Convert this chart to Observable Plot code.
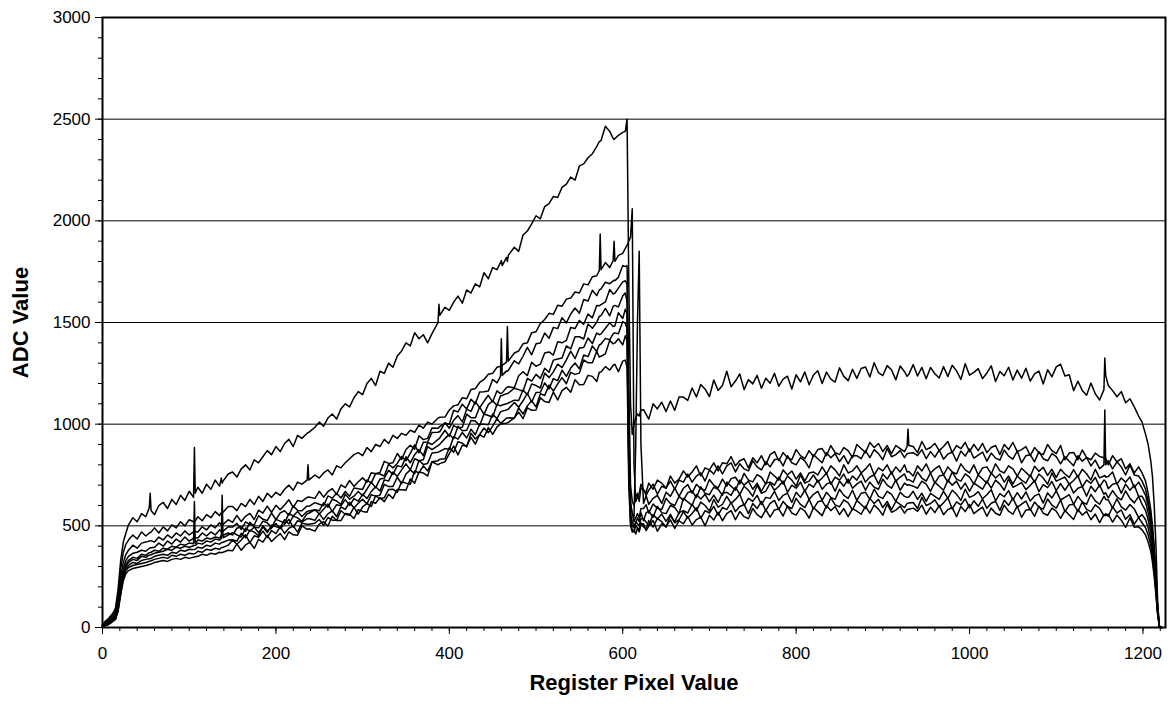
<!DOCTYPE html>
<html><head><meta charset="utf-8">
<script src="https://cdn.jsdelivr.net/npm/d3@7"></script>
<script src="https://cdn.jsdelivr.net/npm/@observablehq/plot@0.6"></script>
<style>body{margin:0;background:#fff;}</style>
</head><body><div id="chart"></div>
<script>
// Register pixel positions (x) shared by all readouts
const pixel = [
  0,3,6,9,12,15,18,21,24,27,
  30,35,40,45,50,54,55,56,60,65,
  70,75,80,85,90,95,100,105,106,107,
  110,115,120,125,130,135,137,138,139,145,
  150,155,160,165,170,175,180,185,190,195,
  200,205,210,215,220,225,230,236,237,238,
  245,250,255,260,265,270,275,280,285,290,
  295,300,305,310,315,320,325,330,335,340,
  345,350,355,360,365,370,375,380,387,388,
  389,395,400,405,410,415,420,425,430,435,
  440,445,450,455,459,460,461,466,467,468,
  475,480,485,490,495,500,505,510,515,520,
  525,530,535,540,545,550,555,560,565,570,
  573,574,575,580,585,589,590,591,595,600,
  603,605,607,609,611,613,615,617,619,621,
  624,627,630,635,640,645,650,655,660,665,
  670,675,680,685,690,695,700,705,710,715,
  720,725,730,735,740,745,750,755,760,765,
  770,775,780,785,790,795,800,805,810,815,
  820,825,830,835,840,845,850,855,860,865,
  870,875,880,885,890,895,900,905,910,915,
  920,925,928,929,930,935,940,945,950,955,
  960,965,970,975,980,985,990,995,1000,1005,
  1010,1015,1020,1025,1030,1035,1040,1045,1050,1055,
  1060,1065,1070,1075,1080,1085,1090,1095,1100,1105,
  1110,1115,1120,1125,1130,1135,1140,1145,1150,1155,
  1156,1157,1160,1165,1170,1175,1180,1185,1190,1195,
  1199,1203,1206,1209,1211,1213,1215,1217,1219,1221
];

const seriesA = [
  15,30,40,55,70,95,190,330,420,465,
  505,540,520,560,545,590,660,575,555,600,
  615,585,630,605,650,625,670,640,885,660,
  690,660,705,680,725,695,735,710,720,755,
  765,740,780,800,775,825,810,840,870,850,
  890,865,905,925,890,945,930,955,958,960,
  985,1010,990,1030,1050,1025,1075,1100,1085,1130,
  1160,1145,1200,1225,1190,1260,1250,1300,1280,1335,
  1360,1400,1385,1450,1420,1440,1400,1445,1500,1590,
  1535,1575,1560,1600,1630,1595,1660,1645,1690,1675,
  1745,1715,1770,1760,1795,1805,1780,1820,1800,1830,
  1870,1850,1930,1950,1985,2025,2010,2070,2085,2120,
  2115,2165,2180,2215,2200,2270,2280,2310,2330,2365,
  2390,2392,2395,2465,2440,2405,2400,2405,2420,2435,
  2440,2500,1700,1100,950,1000,1030,1050,1040,1070,
  1071,1048,1025,1100,1075,1108,1062,1114,1068,1134,
  1133,1117,1178,1134,1195,1172,1135,1217,1166,1190,
  1260,1184,1212,1247,1170,1219,1198,1240,1177,1226,
  1201,1250,1187,1222,1236,1173,1243,1208,1257,1194,
  1242,1263,1200,1256,1221,1207,1277,1235,1214,1270,
  1225,1274,1281,1232,1302,1253,1239,1288,1267,1218,
  1286,1258,1235,1240,1245,1293,1237,1279,1223,1279,
  1248,1227,1283,1234,1290,1262,1220,1297,1241,1255,
  1273,1224,1252,1287,1210,1259,1238,1280,1217,1266,
  1226,1275,1212,1247,1261,1198,1268,1233,1282,1295,
  1237,1243,1165,1211,1166,1142,1202,1150,1119,1170,
  1325,1240,1190,1165,1135,1160,1105,1125,1085,1040,
  1010,950,900,820,740,600,400,120,0,0
];
const seriesB = [
  10,20,35,45,60,80,160,290,370,410,
  430,455,435,470,450,465,467,469,490,465,
  495,475,505,490,520,500,530,520,522,524,
  545,525,555,540,570,550,565,566,567,595,
  595,575,610,595,630,605,645,620,660,640,
  665,650,680,700,675,715,705,725,800,725,
  750,735,760,775,750,795,785,810,830,850,
  860,845,885,865,900,890,925,905,945,930,
  955,945,970,960,995,980,1010,1000,1030,1032,
  1034,1035,1070,1090,1095,1130,1125,1170,1175,1205,
  1220,1245,1250,1280,1285,1287,1289,1305,1480,1310,
  1350,1360,1395,1400,1450,1455,1495,1515,1545,1540,
  1585,1580,1615,1620,1650,1645,1690,1685,1725,1730,
  1755,1935,1760,1795,1770,1805,1900,1800,1830,1840,
  1865,1880,1900,1920,2060,800,620,640,660,705,
  675,665,710,680,725,710,685,745,710,730,
  770,740,765,795,745,785,775,810,770,810,
  805,840,795,820,830,785,835,810,845,800,
  850,865,820,860,835,825,875,845,830,870,
  840,875,880,845,895,860,850,885,870,835,
  900,880,860,910,885,905,865,895,855,895,
  880,865,890,975,895,890,860,915,875,885,
  905,870,890,915,860,895,880,910,865,900,
  870,905,860,885,895,850,900,875,910,865,
  875,890,845,885,860,850,900,870,855,895,
  825,858,861,825,873,836,825,858,841,835,
  838,833,800,845,815,830,780,805,760,790,
  760,720,660,580,500,400,260,100,5,0
];
const seriesC = [
  10,20,30,40,50,70,140,250,320,360,
  380,405,390,415,420,425,426,427,420,445,
  430,455,440,465,450,475,455,470,471,472,
  470,495,480,505,490,515,505,506,507,530,
  517,551,521,547,561,531,577,563,597,567,
  601,579,602,628,591,625,620,640,641,642,
  635,670,641,668,683,654,701,688,723,694,
  717,736,715,761,756,762,817,807,810,856,
  826,875,896,877,943,924,930,981,980,984,
  988,1005,1000,1068,1060,1098,1075,1123,1100,1158,
  1160,1163,1220,1203,1235,1420,1240,1262,1260,1264,
  1312,1296,1334,1378,1341,1395,1399,1448,1422,1476,
  1470,1524,1498,1542,1571,1545,1613,1606,1659,1632,
  1660,1663,1665,1698,1691,1705,1708,1706,1722,1780,
  1775,1780,1200,700,620,600,640,660,620,685,
  680,650,675,705,655,695,685,720,680,725,
  715,755,715,745,760,720,775,755,795,755,
  795,810,765,805,780,770,820,790,775,815,
  790,825,830,795,845,810,800,835,820,785,
  850,830,810,860,835,855,815,845,805,845,
  845,830,870,835,875,855,825,880,840,850,
  870,835,855,856,857,860,845,875,830,865,
  838,873,828,853,863,818,868,843,878,833,
  848,863,818,858,833,823,873,843,828,868,
  810,845,850,815,865,830,820,855,840,805,
  840,818,796,845,818,836,795,823,781,800,
  1070,800,820,780,815,790,750,800,750,745,
  720,680,620,550,470,370,240,90,5,0
];
const seriesD = [
  5,15,25,35,45,60,120,220,290,330,
  350,365,370,380,375,390,391,392,395,415,
  400,425,410,435,420,445,425,440,441,442,
  440,465,450,470,455,480,472,473,474,495,
  494,512,482,520,506,504,550,532,526,564,
  530,564,574,552,598,576,574,598,597,596,
  614,606,599,647,636,660,637,669,646,686,
  682,679,725,711,757,755,745,803,785,807,
  841,820,856,898,859,911,912,959,960,963,
  962,1008,980,1019,1042,1011,1074,1063,1111,1080,
  1113,1142,1110,1164,1150,1152,1154,1180,1182,1184,
  1179,1238,1258,1239,1304,1285,1295,1350,1355,1340,
  1405,1400,1412,1475,1470,1510,1491,1542,1523,1584,
  1582,1585,1588,1601,1662,1640,1642,1645,1669,1700,
  1705,1690,1000,620,560,540,900,1500,1850,900,
  610,648,606,635,650,610,665,645,685,645,
  685,703,661,704,682,675,728,700,687,730,
  695,732,739,706,758,725,716,752,739,705,
  765,745,725,775,750,770,730,760,720,760,
  765,750,790,755,795,775,745,800,760,770,
  795,760,780,805,750,785,770,800,755,790,
  765,800,765,766,767,745,795,770,805,760,
  780,795,750,790,765,755,805,775,760,800,
  750,785,790,755,805,770,760,795,780,745,
  783,763,743,793,768,788,748,778,738,778,
  755,738,776,740,778,756,725,778,736,745,
  748,740,743,765,705,735,715,740,688,715,
  685,650,600,530,460,360,230,90,5,0
];
const seriesE = [
  5,15,22,30,40,55,110,200,270,310,
  330,345,340,360,355,368,369,370,380,375,
  390,385,400,395,410,405,415,412,620,414,
  430,425,440,435,445,440,452,453,454,465,
  455,488,496,473,517,494,490,523,515,492,
  532,523,514,561,548,571,546,572,571,573,
  579,574,613,592,631,622,605,656,631,646,
  669,648,680,715,687,730,734,773,753,796,
  790,840,810,850,875,845,910,900,925,928,
  933,970,940,993,982,985,1049,1032,1031,1084,
  1048,1096,1115,1092,1140,1140,1141,1150,1150,1152,
  1177,1170,1162,1225,1212,1245,1225,1275,1255,1315,
  1320,1325,1385,1370,1430,1430,1419,1493,1472,1501,
  1530,1532,1534,1569,1533,1580,1582,1584,1576,1630,
  1645,1600,900,600,560,520,540,560,540,585,
  585,604,563,607,586,580,635,610,600,645,
  625,663,671,639,692,660,653,691,680,650,
  715,695,675,725,700,720,680,710,670,710,
  715,700,740,705,745,725,695,750,710,720,
  750,715,735,760,705,740,725,755,710,745,
  725,760,715,740,750,705,755,730,765,720,
  740,755,725,726,727,715,765,735,720,760,
  710,745,750,715,765,730,720,755,740,705,
  750,730,710,760,735,755,715,745,705,745,
  725,710,750,715,755,735,705,760,720,730,
  740,704,723,747,691,725,709,738,692,725,
  722,718,683,705,710,660,705,675,700,645,
  645,615,565,500,430,340,210,80,5,0
];
const seriesF = [
  5,12,20,28,38,50,100,190,260,300,
  320,335,330,350,345,356,357,358,365,370,
  375,385,380,395,390,400,395,402,403,404,
  415,410,425,420,435,430,438,650,441,455,
  467,456,444,489,473,494,466,495,467,504,
  496,491,530,509,548,539,522,560,561,562,
  579,558,581,607,570,604,599,629,600,634,
  621,655,634,669,692,671,726,721,764,743,
  775,805,775,830,820,825,890,875,895,898,
  901,930,950,928,990,968,970,1018,1015,993,
  1050,1043,1035,1098,1090,1092,1094,1100,1102,1104,
  1118,1116,1168,1145,1198,1190,1178,1251,1229,1257,
  1295,1278,1316,1359,1322,1375,1377,1424,1396,1448,
  1440,1442,1444,1472,1499,1480,1482,1484,1548,1520,
  1565,1540,850,560,520,500,510,540,520,565,
  525,564,573,542,596,565,560,600,590,560,
  635,618,601,654,632,655,618,651,615,660,
  665,650,690,655,695,675,645,700,660,670,
  710,675,695,720,665,700,685,715,670,705,
  690,725,680,705,715,670,720,695,730,685,
  705,720,675,715,690,680,730,700,685,725,
  675,710,700,701,702,695,685,720,705,670,
  715,695,675,725,700,720,680,710,670,710,
  695,680,720,685,725,705,675,730,690,700,
  713,678,698,723,668,703,688,718,673,708,
  675,708,661,685,693,646,695,668,701,655,
  660,662,637,673,643,628,672,635,613,645,
  605,575,530,470,400,315,200,75,5,0
];
const seriesG = [
  5,10,18,25,35,45,90,180,250,290,
  305,320,315,330,335,338,339,340,350,355,
  360,355,370,365,380,375,385,383,384,385,
  395,390,405,400,415,410,417,418,419,430,
  431,425,463,441,479,469,451,501,475,489,
  511,487,508,532,493,525,518,535,535,536,
  527,560,531,559,574,546,593,581,616,588,
  611,631,608,653,646,651,704,693,694,739,
  707,755,775,756,821,802,807,858,862,864,
  866,880,875,938,926,959,932,975,948,1001,
  999,997,1050,1027,1060,1062,1064,1070,1072,1074,
  1106,1083,1115,1152,1109,1156,1157,1203,1173,1224,
  1214,1265,1235,1276,1301,1272,1340,1332,1385,1357,
  1390,1392,1394,1422,1415,1445,1447,1449,1445,1505,
  1495,1470,800,540,500,490,520,510,500,535,
  535,518,501,555,534,558,522,556,520,565,
  575,563,606,574,617,600,573,630,592,605,
  645,610,630,655,600,635,620,650,605,640,
  635,670,625,650,660,615,665,640,675,630,
  655,670,625,665,640,630,680,650,635,675,
  625,660,665,630,680,645,635,670,655,620,
  665,645,640,641,642,670,630,660,620,660,
  645,630,670,635,675,655,625,680,640,650,
  668,633,653,678,623,658,643,673,628,663,
  632,667,622,647,657,612,662,637,672,627,
  640,653,606,645,618,606,655,623,606,645,
  640,630,627,588,633,593,577,605,583,540,
  555,530,490,435,370,290,185,70,5,0
];
const seriesH = [
  5,10,15,22,32,42,85,170,240,280,
  295,305,310,315,320,326,327,328,335,340,
  345,340,355,350,360,355,365,362,363,364,
  375,370,385,380,390,385,392,393,394,405,
  431,409,430,456,417,451,444,474,443,477,
  462,495,463,488,500,469,513,508,508,508,
  513,531,502,541,528,527,574,557,552,591,
  558,593,610,595,648,633,638,679,680,665,
  717,710,705,770,760,795,770,815,820,825,
  827,830,885,862,914,906,888,955,927,949,
  981,958,990,1027,1006,1008,1010,1030,1030,1031,
  1030,1080,1050,1090,1115,1085,1150,1141,1192,1163,
  1198,1229,1199,1255,1245,1251,1316,1302,1302,1358,
  1330,1332,1334,1346,1412,1395,1397,1399,1420,1390,
  1435,1410,750,520,480,470,500,490,480,515,
  495,483,526,494,537,520,493,551,515,530,
  570,538,561,589,537,575,563,596,553,590,
  580,615,570,595,605,560,610,585,620,575,
  610,625,580,620,595,585,635,605,590,630,
  583,618,623,588,638,603,593,628,613,578,
  625,605,585,635,610,630,590,620,580,620,
  605,590,610,611,612,615,585,640,600,610,
  628,593,613,638,583,618,603,633,588,623,
  596,631,586,611,621,576,626,601,636,591,
  607,622,577,617,592,582,632,602,587,627,
  570,603,606,570,618,581,570,603,586,550,
  555,560,547,593,563,578,532,555,508,540,
  515,490,455,405,345,270,170,65,5,0
];
const seriesI = [
  5,8,12,20,30,40,80,160,230,265,
  280,290,295,300,305,310,311,312,320,325,
  330,325,335,340,335,345,340,346,347,348,
  350,360,355,365,360,370,368,369,370,380,
  377,411,380,406,419,389,434,420,453,423,
  444,462,432,470,456,454,500,483,484,486,
  474,508,520,499,547,526,526,561,557,536,
  580,571,567,619,611,639,619,655,635,679,
  678,675,730,710,765,760,745,815,800,803,
  806,815,855,892,849,896,893,935,902,949,
  936,983,950,987,1000,1001,1002,1005,1007,1009,
  1031,1059,1027,1080,1068,1070,1130,1111,1107,1158,
  1119,1165,1181,1157,1218,1194,1195,1240,1235,1210,
  1255,1256,1257,1283,1266,1290,1292,1294,1258,1310,
  1315,1280,700,500,470,480,460,490,470,505,
  510,477,499,526,473,510,497,529,487,525,
  510,547,504,531,543,500,552,529,567,525,
  560,575,530,570,545,535,585,555,540,580,
  543,578,583,548,598,563,553,588,573,538,
  590,570,550,600,575,595,555,585,545,585,
  572,557,597,562,602,582,552,607,567,577,
  597,562,580,581,582,587,572,602,557,592,
  565,600,555,580,590,545,595,570,605,560,
  577,592,547,587,562,552,602,572,557,597,
  542,577,582,547,597,562,552,587,572,537,
  575,553,531,580,553,571,530,558,516,555,
  552,550,557,518,553,528,492,540,493,495,
  480,455,420,375,320,250,160,60,5,0
];

const xMajorTicks = [0, 200, 400, 600, 800, 1000, 1200];
const yMajorTicks = [0, 500, 1000, 1500, 2000, 2500, 3000];
const xTitle = "Register Pixel Value";
const yTitle = "ADC Value";

const allSeries = {A: seriesA, B: seriesB, C: seriesC, D: seriesD, E: seriesE, F: seriesF, G: seriesG, H: seriesH, I: seriesI};
const data = Object.entries(allSeries).flatMap(([name, vals]) =>
  vals.map((v, i) => ({series: name, pixel: pixel[i], value: v})));

const chart = Plot.plot({
  width: 1173, height: 704,
  marginLeft: 102, marginRight: 8, marginTop: 17, marginBottom: 77,
  style: {fontFamily: "'Liberation Sans', Arial, sans-serif", fontSize: "17px", background: "#fff", color: "#000"},
  x: {domain: [0, 1226]},
  y: {domain: [0, 3000]},
  marks: [
    Plot.ruleY(yMajorTicks.slice(1, -1), {stroke: "#000", strokeWidth: 1}),
    Plot.line(data, {x: "pixel", y: "value", z: "series", stroke: "#000", strokeWidth: 1.5}),
    Plot.frame({stroke: "#000", strokeWidth: 2}),
    Plot.axisX(d3.range(0, 1226, 20), {tickSize: 4, tickFormat: () => "", label: null}),
    Plot.axisX(xMajorTicks, {tickSize: 7, tickPadding: 12, tickFormat: d => String(d), fontSize: 17, label: null}),
    Plot.axisY(d3.range(0, 3001, 100), {tickSize: 4, tickFormat: () => "", label: null}),
    Plot.axisY(yMajorTicks, {tickSize: 7, tickPadding: 5, tickFormat: d => String(d), fontSize: 17, label: null}),
    Plot.text([xTitle], {text: d => d, frameAnchor: "bottom", dy: 62, textAnchor: "middle", fontWeight: "bold", fontSize: 22}),
    Plot.text([yTitle], {text: d => d, frameAnchor: "left", dx: -82, rotate: -90, textAnchor: "middle", fontWeight: "bold", fontSize: 22})
  ]
});
document.getElementById("chart").append(chart);
</script></body></html>
